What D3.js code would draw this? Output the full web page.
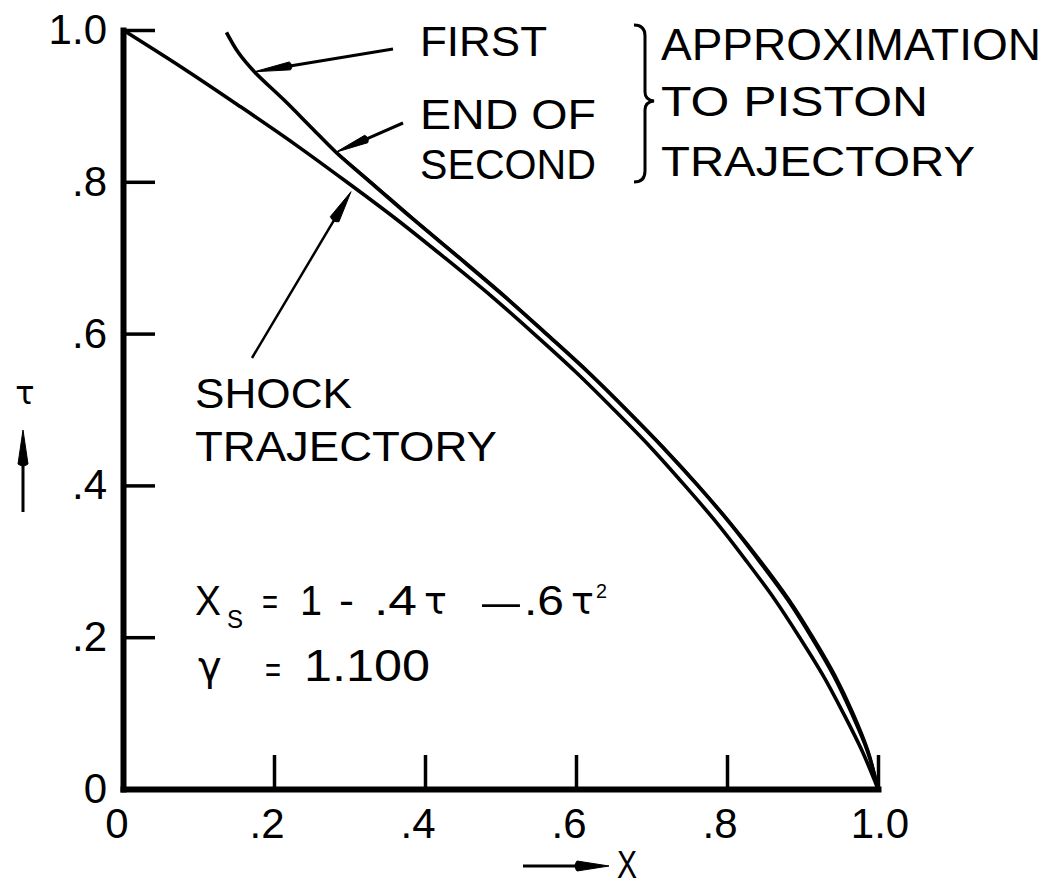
<!DOCTYPE html>
<html>
<head>
<meta charset="utf-8">
<script src="https://cdn.jsdelivr.net/npm/d3@7/dist/d3.min.js"></script>
<style>
  html, body { margin: 0; padding: 0; background: #fff; }
  svg { display: block; }
  text { font-family: "Liberation Sans", "DejaVu Sans", sans-serif; fill: #000; }
</style>
</head>
<body>
<script>
// Shock trajectory  X_s = 1 - .4τ - .6τ²  (x, τ pairs along the curve)
const shockTau = [1.00, 0.95, 0.90, 0.85, 0.80, 0.75, 0.70, 0.65, 0.60, 0.55, 0.50, 0.45, 0.40, 0.35, 0.30, 0.25, 0.20, 0.15, 0.10, 0.05, 0.00];
const shockX   = [0.000, 0.079, 0.154, 0.227, 0.296, 0.363, 0.426, 0.487, 0.544, 0.599, 0.650, 0.699, 0.744, 0.787, 0.826, 0.863, 0.896, 0.927, 0.954, 0.979, 1.000];

// First approximation to the piston trajectory
const firstTau = [0.997, 0.970, 0.945, 0.908, 0.872, 0.839, 0.800, 0.750, 0.700, 0.650, 0.600, 0.550, 0.500, 0.450, 0.400, 0.350, 0.300, 0.250, 0.200, 0.150, 0.100, 0.050, 0.000];
const firstX   = [0.137, 0.153, 0.174, 0.213, 0.249, 0.282, 0.327, 0.385, 0.445, 0.504, 0.560, 0.615, 0.666, 0.715, 0.761, 0.804, 0.843, 0.880, 0.912, 0.941, 0.965, 0.986, 1.000];

// End of second approximation (starts at τ ≈ .84)
const secondTau = [0.839, 0.800, 0.750, 0.700, 0.650, 0.600, 0.550, 0.500, 0.450, 0.400, 0.350, 0.300, 0.250, 0.200, 0.150, 0.100, 0.050, 0.000];
const secondX   = [0.282, 0.328, 0.386, 0.446, 0.505, 0.561, 0.616, 0.667, 0.716, 0.762, 0.805, 0.845, 0.882, 0.914, 0.943, 0.967, 0.987, 1.000];

// Axis ticks
const xTicks = [0, 0.2, 0.4, 0.6, 0.8, 1.0];
const xTickLabels = ["0", ".2", ".4", ".6", ".8", "1.0"];
const yTicks = [0, 0.2, 0.4, 0.6, 0.8, 1.0];
const yTickLabels = ["0", ".2", ".4", ".6", ".8", "1.0"];

const W = 1055, H = 885;
const svg = d3.select("body").append("svg").attr("width", W).attr("height", H);

const x = d3.scaleLinear().domain([0, 1]).range([123, 878]);
const y = d3.scaleLinear().domain([0, 1]).range([789, 30]);

// ---- axes ----
const xAxis = d3.axisBottom(x).tickValues(xTicks.slice(1)).tickSize(-34).tickSizeOuter(0).tickFormat("");
const yAxis = d3.axisLeft(y).tickValues(yTicks.slice(1)).tickSize(-32).tickSizeOuter(0).tickFormat("");

const gx = svg.append("g").attr("transform", `translate(0,${y(0)})`).call(xAxis);
const gy = svg.append("g").attr("transform", `translate(${x(0)},0)`).call(yAxis);
[gx, gy].forEach(g => {
  g.select(".domain").attr("stroke", "#000").attr("stroke-width", 6).attr("stroke-linecap", "square");
  g.selectAll(".tick line").attr("stroke", "#000").attr("stroke-width", 3.5);
});

// x tick labels
svg.append("g").selectAll("text").data(xTicks).join("text")
  .attr("x", (d, i) => x(d) + (i === 0 ? -6 : (i === xTicks.length - 1 ? 2 : -7)))
  .attr("y", 838)
  .attr("text-anchor", "middle")
  .attr("font-size", 42)
  .text((d, i) => xTickLabels[i]);

// y tick labels
svg.append("g").selectAll("text").data(yTicks).join("text")
  .attr("x", 107)
  .attr("y", d => y(d) + 14)
  .attr("text-anchor", "end")
  .attr("font-size", 42)
  .text((d, i) => yTickLabels[i]);

// ---- curves ----
const line = d3.line()
  .x(d => x(d[0]))
  .y(d => y(d[1]))
  .curve(d3.curveCatmullRom.alpha(0.5));

svg.append("path").datum(d3.zip(shockX, shockTau))
  .attr("d", line).attr("fill", "none").attr("stroke", "#000").attr("stroke-width", 3.6);
svg.append("path").datum(d3.zip(firstX, firstTau))
  .attr("d", line).attr("fill", "none").attr("stroke", "#000").attr("stroke-width", 3.6);
svg.append("path").datum(d3.zip(secondX, secondTau))
  .attr("d", line).attr("fill", "none").attr("stroke", "#000").attr("stroke-width", 3);

// ---- leader arrows ----
function arrow(tail, tip, headLen, headW, lw) {
  const dx = tip[0] - tail[0], dy = tip[1] - tail[1];
  const L = Math.hypot(dx, dy), ux = dx / L, uy = dy / L;
  const bx = tip[0] - ux * headLen, by = tip[1] - uy * headLen;
  const nx = -uy * headW / 2, ny = ux * headW / 2;
  svg.append("line")
    .attr("x1", tail[0]).attr("y1", tail[1]).attr("x2", bx).attr("y2", by)
    .attr("stroke", "#000").attr("stroke-width", lw);
  svg.append("path")
    .attr("d", `M${tip[0]},${tip[1]} L${bx + nx},${by + ny} Q${bx - ux * 4},${by - uy * 4} ${bx - nx},${by - ny} Z`)
    .attr("fill", "#000").attr("stroke", "#000").attr("stroke-width", 1).attr("stroke-linejoin", "round");
}

arrow([393, 49], [x(0.174), y(0.945)], 36, 8, 3);     // FIRST
arrow([403, 123], [x(0.282), y(0.839)], 33, 8, 3);    // END OF SECOND
arrow([252, 358], [x(0.302), y(0.787)], 32, 10, 2.5); // SHOCK TRAJECTORY

// axis direction arrows
arrow([23, 512], [23, 430], 34, 10, 3);
arrow([523, 866], [609, 866], 32, 10, 3);

// ---- brace ----
svg.append("path")
  .attr("d", "M634,25 Q645,25 645,36 L645,92 Q645,100 654,101 Q645,102 645,110 L645,171 Q645,182 634,182")
  .attr("fill", "none").attr("stroke", "#000").attr("stroke-width", 3);

// ---- annotations ----
function label(txt, x0, yb, size, len) {
  const t = svg.append("text").attr("x", x0).attr("y", yb).attr("font-size", size).text(txt);
  if (len) t.attr("textLength", len).attr("lengthAdjust", "spacingAndGlyphs");
  return t;
}

label("FIRST", 420, 56, 43, 127);
label("END OF", 420, 129, 43, 176);
label("SECOND", 420, 179, 43, 176);

label("APPROXIMATION", 661, 60, 45, 380);
label("TO PISTON", 661, 116, 43, 267);
label("TRAJECTORY", 661, 176, 43, 314);

label("SHOCK", 195, 408, 43, 157);
label("TRAJECTORY", 195, 461, 43, 302);

// formula  X_S = 1 - .4τ - .6τ²
label("X", 195, 615, 42, 26);
label("S", 227, 628, 26, 16);
label("=", 262, 614, 36, 16);
label("1", 300, 615, 43, 22);
label("-", 339, 615, 43, 15);
label(".4", 374, 615, 43, 43);
svg.append("text").attr("x", 424).attr("y", 614).attr("font-size", 38)
  .style("font-family", "'DejaVu Sans', sans-serif").text("τ");
label("–", 482, 616, 43, 38);
label(".6", 524, 615, 43, 40);
svg.append("text").attr("x", 571).attr("y", 614).attr("font-size", 38)
  .style("font-family", "'DejaVu Sans', sans-serif").text("τ");
label("2", 596, 598, 20, 11);

// γ = 1.100
svg.append("text").attr("x", 198).attr("y", 680).attr("font-size", 40)
  .style("font-family", "'DejaVu Sans', sans-serif").text("γ");
label("=", 265, 682, 36, 16);
label("1.100", 304, 681, 44, 126);

// axis names
svg.append("text").attr("x", 25).attr("y", 404).attr("text-anchor", "middle").attr("font-size", 32)
  .style("font-family", "'DejaVu Sans', sans-serif").text("τ");
label("X", 617, 878, 38, 20);
</script>
</body>
</html>
